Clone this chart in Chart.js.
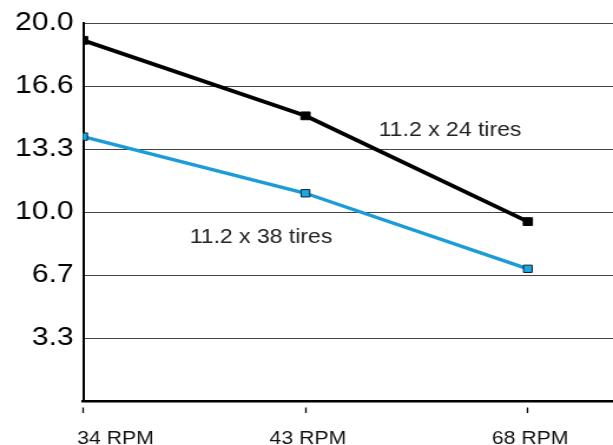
<!DOCTYPE html>
<html lang="en">
<head>
    <meta charset="UTF-8">
    <title>RPM chart</title>
    <style>
        html, body { margin: 0; padding: 0; background: #fff; overflow: hidden; }
        /* the original artwork is drawn slightly wide, so the whole chart is stretched sideways */
        .myChart { width: 520px; height: 445px; transform: scaleX(1.1788); transform-origin: 0 0; }
    </style>
</head>
<body>
    <div class="myChart">
        <canvas id="myChart" width="520" height="445"></canvas>
    </div>

    <script src="https://cdn.jsdelivr.net/npm/chart.js"></script>
    <script>
        // data
        const categories = ['34 RPM', '43 RPM', '68 RPM'];
        const tires24 = [19.1, 15.1, 9.5];
        const tires38 = [14.0, 11.0, 7.0];
        const yTicks = [3.333, 6.667, 10, 13.333, 16.667, 20];
        const yTickLabels = ['3.3', '6.7', '10.0', '13.3', '16.6', '20.0'];
        const seriesNames = ['11.2 x 24 tires', '11.2 x 38 tires'];
        // where the series names sit, in data units
        const notePos = [{ x: 1.65, y: 14.3 }, { x: 0.80, y: 8.65 }];

        const FONT = '"Liberation Sans", Arial, Helvetica, sans-serif';
        const toPoints = arr => arr.map((v, i) => ({ x: i, y: v }));

        // series names + category labels under the x axis
        const notes = {
            id: 'notes',
            afterDraw(chart) {
                const ctx = chart.ctx;
                const xs = chart.scales.x, ys = chart.scales.y;
                ctx.save();
                ctx.font = '19.5px ' + FONT;
                ctx.fillStyle = '#222';
                ctx.textAlign = 'center';
                ctx.textBaseline = 'middle';
                seriesNames.forEach((name, i) => {
                    ctx.fillText(name, xs.getPixelForValue(notePos[i].x), ys.getPixelForValue(notePos[i].y));
                });

                ctx.font = '18px ' + FONT;
                ctx.fillStyle = '#111';
                ctx.textBaseline = 'alphabetic';
                categories.forEach((c, i) => {
                    const px = xs.getPixelForValue(i);
                    if (i === 0) {
                        ctx.textAlign = 'left';
                        ctx.fillText(c, px - 5, xs.top + 43);
                    } else {
                        ctx.textAlign = 'center';
                        ctx.fillText(c, px + 2, xs.top + 43);
                    }
                });
                ctx.restore();
            }
        };

        var ctx = document.getElementById('myChart').getContext('2d');
        var myChart = new Chart(ctx, {
            type: 'line',
            data: {
                datasets: [{
                    label: seriesNames[0],
                    data: toPoints(tires24),
                    borderColor: '#000',
                    backgroundColor: '#000',
                    borderWidth: 3.8,
                    pointStyle: 'rect',
                    pointRadius: 5.5,
                    pointBorderWidth: 1,
                    pointBorderColor: '#000',
                    pointBackgroundColor: '#000'
                }, {
                    label: seriesNames[1],
                    data: toPoints(tires38),
                    borderColor: '#1b9bd7',
                    backgroundColor: '#1ca6e2',
                    borderWidth: 3.4,
                    pointStyle: 'rect',
                    pointRadius: 5.2,
                    pointBorderWidth: 1,
                    pointBorderColor: '#0b2236',
                    pointBackgroundColor: '#1ca6e2'
                }]
            },
            options: {
                responsive: false,
                animation: false,
                devicePixelRatio: 1,
                layout: { autoPadding: false, padding: { top: 21, right: 0, left: 0, bottom: 0 } },
                plugins: { legend: { display: false }, tooltip: { enabled: false } },
                scales: {
                    x: {
                        type: 'linear',
                        min: 0,
                        max: 2.383,
                        afterBuildTicks: s => { s.ticks = categories.map((c, i) => ({ value: i })); },
                        afterFit: s => { s.height = 44; },
                        ticks: { display: false },
                        grid: {
                            drawOnChartArea: false,
                            tickLength: 12,
                            tickColor: '#000',
                            tickWidth: 1.3,
                            tickBorderDash: [0, 5, 7, 40]
                        },
                        border: { color: '#000', width: 2.5 }
                    },
                    y: {
                        min: 0,
                        max: 20,
                        afterBuildTicks: s => { s.ticks = yTicks.map(v => ({ value: v })); },
                        afterFit: s => { s.width = 70.5; },
                        ticks: {
                            callback: (v) => yTickLabels[yTicks.indexOf(v)],
                            color: '#000',
                            font: { family: FONT, size: 25.5 },
                            padding: 8
                        },
                        grid: { color: '#444', lineWidth: 1, drawTicks: false },
                        border: { color: '#000', width: 2 }
                    }
                }
            },
            plugins: [notes]
        });
    </script>
</body>
</html>
